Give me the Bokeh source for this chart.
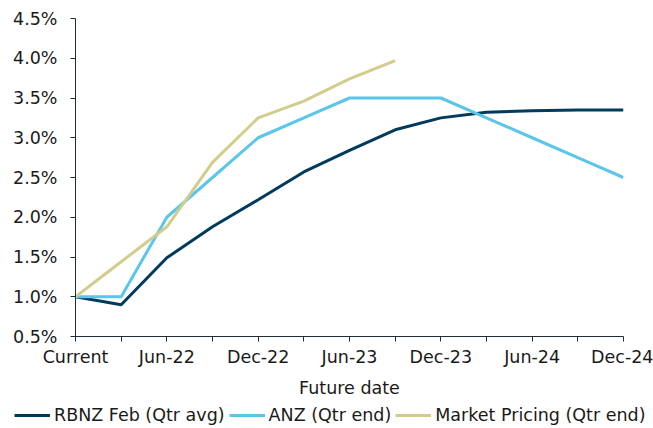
from bokeh.plotting import figure
from bokeh.layouts import column
from bokeh.models import (Range1d, FixedTicker, PrintfTickFormatter, Legend, LegendItem)
from bokeh.embed import file_html
from bokeh.resources import INLINE

quarters = ["Current", "Mar-22", "Jun-22", "Sep-22", "Dec-22", "Mar-23", "Jun-23",
            "Sep-23", "Dec-23", "Mar-24", "Jun-24", "Sep-24", "Dec-24"]
tick_labels = ["Current", "", "Jun-22", "", "Dec-22", "", "Jun-23", "",
               "Dec-23", "", "Jun-24", "", "Dec-24"]
rbnz = [1.0, 0.9, 1.49, 1.88, 2.22, 2.57, 2.84, 3.10, 3.25, 3.32, 3.34, 3.35, 3.35]
anz = [1.0, 1.0, 2.0, 2.5, 3.0, 3.25, 3.5, 3.5, 3.5, 3.25, 3.0, 2.75, 2.5]
market = [1.0, 1.44, 1.88, 2.69, 3.25, 3.46, 3.74, 3.97]
y_ticks = [0.5, 1.0, 1.5, 2.0, 2.5, 3.0, 3.5, 4.0, 4.5]
series_names = ["RBNZ Feb (Qtr avg)", "ANZ (Qtr end)", "Market Pricing (Qtr end)"]
colors = ["#003a5d", "#5bc5ea", "#d3cd8c"]

FONT = "DejaVu Sans"
FS = "17.5px"
TXT = "#1a1a1a"
AX = "#1e2b38"

x_all = list(range(len(quarters)))
x_mkt = x_all[:len(market)]
series = [(x_all, rbnz), (x_all, anz), (x_mkt, market)]

p = figure(width=653, height=400, output_backend="svg", toolbar_location=None,
           x_range=Range1d(0, len(quarters) - 1), y_range=Range1d(0.5, 4.5),
           min_border_left=75, min_border_right=30, min_border_top=18, min_border_bottom=64)
p.outline_line_color = None
p.grid.grid_line_color = None
p.background_fill_color = "white"
p.border_fill_color = "white"

for (xs, ys), c in zip(series, colors):
    p.line(xs, ys, line_color=c, line_width=3)

xa = p.xaxis[0]
xa.ticker = FixedTicker(ticks=x_all)
xa.major_label_overrides = {i: t for i, t in enumerate(tick_labels)}
xa.minor_tick_line_color = None
xa.major_tick_in = 0
xa.major_tick_out = 5
xa.major_label_standoff = 5
xa.axis_label = "Future date"
xa.axis_label_standoff = 8
xa.axis_label_text_font_style = "normal"

ya = p.yaxis[0]
ya.ticker = FixedTicker(ticks=y_ticks)
ya.formatter = PrintfTickFormatter(format="%.1f%%")
ya.minor_tick_line_color = None
ya.major_tick_in = 0
ya.major_tick_out = 5
ya.major_label_standoff = 13

for a in (xa, ya):
    a.axis_line_color = AX
    a.major_tick_line_color = AX
    a.major_label_text_font = FONT
    a.major_label_text_font_size = FS
    a.major_label_text_color = TXT
    a.axis_label_text_font = FONT
    a.axis_label_text_font_size = FS
    a.axis_label_text_color = TXT

# legend strip below the chart (same series, ranges keep lines out of view)
p2 = figure(width=653, height=28, output_backend="svg", toolbar_location=None,
            x_range=Range1d(0, 1), y_range=Range1d(100, 101),
            x_axis_type=None, y_axis_type=None,
            min_border_left=0, min_border_right=0, min_border_top=0, min_border_bottom=0)
p2.frame_align = False
p2.outline_line_color = None
p2.grid.grid_line_color = None
p2.background_fill_color = "white"
p2.border_fill_color = "white"
items = []
for name, (xs, ys), c in zip(series_names, series, colors):
    r = p2.line(xs, ys, line_color=c, line_width=3)
    items.append(LegendItem(label=name, renderers=[r]))

legend = Legend(items=items, orientation="horizontal", location=(14, 3))
legend.border_line_color = None
legend.background_fill_alpha = 0
legend.padding = 0
legend.margin = 0
legend.spacing = 4
legend.glyph_width = 36
legend.glyph_height = 20
legend.label_standoff = 4
legend.label_text_font = FONT
legend.label_text_font_size = FS
legend.label_text_color = TXT
p2.add_layout(legend, "center")

open("out.html", "w").write(file_html(column(p, p2, spacing=0), INLINE))
